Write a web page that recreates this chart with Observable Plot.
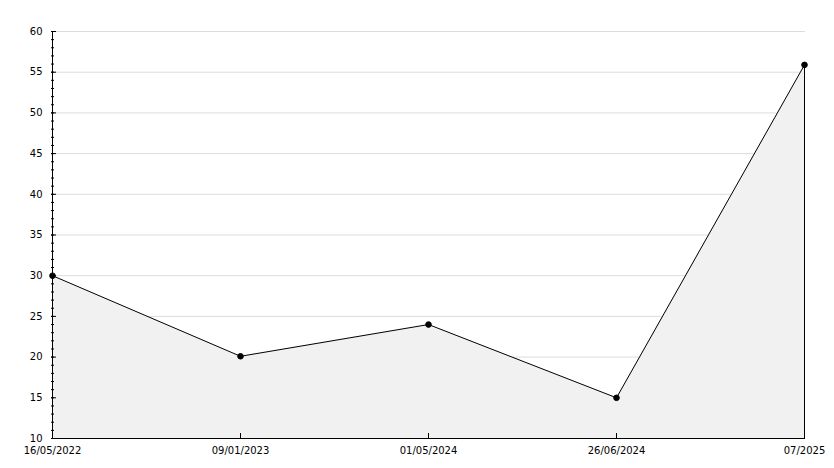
<!DOCTYPE html>
<html>
<head>
<meta charset="utf-8">
<script src="https://cdn.jsdelivr.net/npm/d3@7"></script>
<script src="https://cdn.jsdelivr.net/npm/@observablehq/plot@0.6"></script>
<style>
  html, body { margin: 0; padding: 0; background: #fff; }
  svg { display: block; }
</style>
</head>
<body>
<div id="chart"></div>
<script>
const categories = ["16/05/2022", "09/01/2023", "01/05/2024", "26/06/2024", "07/2025"];
const values = [30, 20.1, 24, 15, 55.9];
const majorTicks = [10, 15, 20, 25, 30, 35, 40, 45, 50, 55, 60];
const minorTicks = d3.range(10, 61, 1);
const gridTicks = [15, 20, 25, 30, 35, 40, 45, 50, 55, 60];

const data = categories.map((c, i) => ({cat: c, value: values[i]}));
const first = categories[0];
const last = categories[categories.length - 1];

const chart = Plot.plot({
  width: 834,
  height: 468,
  marginLeft: 51,
  marginRight: 29,
  marginTop: 31,
  marginBottom: 30,
  style: {fontFamily: "DejaVu Sans, sans-serif", fontSize: "10px", background: "#fff", color: "#000"},
  x: {type: "point", domain: categories, padding: 0, label: null},
  y: {domain: [10, 60], label: null},
  marks: [
    Plot.ruleY(gridTicks, {stroke: "#dcdcdc", strokeWidth: 1}),
    Plot.areaY(data, {x: "cat", y1: 10, y2: "value", fill: "#f1f1f1"}),
    Plot.ruleX([last], {y1: 10, y2: values[values.length - 1], stroke: "#000"}),
    Plot.lineY(data, {x: "cat", y: "value", stroke: "#000", strokeWidth: 1}),
    Plot.dot(data, {x: "cat", y: "value", r: 2.8, fill: "#000", stroke: "#000", strokeWidth: 1}),
    Plot.axisY({ticks: minorTicks, tickSize: -3, text: null, stroke: "#000"}),
    Plot.axisY({ticks: majorTicks, tickSize: -5, text: null, stroke: "#000"}),
    Plot.axisY({ticks: majorTicks, tickSize: 0, tickPadding: 9, tickFormat: d => String(d), fill: "#000"}),
    Plot.axisX({tickSize: -5, text: null, stroke: "#000"}),
    Plot.axisX({tickSize: 0, tickPadding: 8, fill: "#000"}),
    Plot.ruleX([first], {y1: 10, y2: 60, stroke: "#000"}),
    Plot.ruleY([10], {stroke: "#000"})
  ]
});
document.getElementById("chart").appendChild(chart);
</script>
</body>
</html>
